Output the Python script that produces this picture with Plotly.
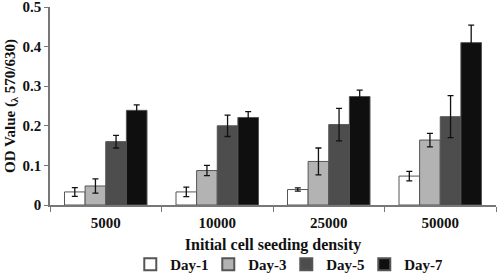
import plotly.graph_objects as go

categories = ["5000", "10000", "25000", "50000"]
series_names = ["Day-1", "Day-3", "Day-5", "Day-7"]
day1 = [0.033, 0.033, 0.039, 0.073]
day3 = [0.048, 0.087, 0.110, 0.164]
day5 = [0.160, 0.200, 0.203, 0.223]
day7 = [0.239, 0.221, 0.274, 0.410]
err1 = [0.011, 0.012, 0.004, 0.012]
err3 = [0.018, 0.013, 0.034, 0.017]
err5 = [0.016, 0.027, 0.041, 0.053]
err7 = [0.014, 0.015, 0.016, 0.044]
colors = ["#ffffff", "#b3b3b3", "#4d4d4d", "#0f0f0f"]
y_ticks = [0, 0.1, 0.2, 0.3, 0.4, 0.5]
y_ticklabels = ["0", "0.1", "0.2", "0.3", "0.4", "0.5"]

FONT = "Liberation Serif, Times New Roman, serif"
fig = go.Figure()
for name, vals, errs, col in zip(series_names, [day1, day3, day5, day7],
                                  [err1, err3, err5, err7], colors):
    fig.add_trace(go.Bar(
        x=categories, y=vals, name=name,
        marker=dict(color=col, line=dict(color="#555555", width=1)),
        error_y=dict(type="data", array=errs, color="#111111", thickness=1.3, width=3),
    ))

fig.update_layout(
    width=497, height=276,
    margin=dict(l=50, r=1, t=7, b=71, autoexpand=False),
    paper_bgcolor="white", plot_bgcolor="white",
    barmode="group", bargap=0.26, bargroupgap=0,
    font=dict(family=FONT, size=14, color="#111111", weight=700),
    showlegend=True,
    legend=dict(orientation="h", x=0.18, xanchor="left", y=-0.30, yanchor="middle",
                font=dict(family=FONT, size=15, weight=700),
                entrywidth=33, entrywidthmode="pixels", tracegroupgap=0,
                itemsizing="constant", bgcolor="rgba(0,0,0,0)"),
    xaxis=dict(
        type="category", tickson="boundaries", ticks="outside", ticklen=5,
        tickcolor="#777777", showline=True, linecolor="#777777", linewidth=1.5,
        showgrid=False, automargin=False, ticklabelstandoff=3,
        tickfont=dict(family=FONT, size=15, weight=700),
        title=dict(text="<b>Initial cell seeding density</b>", standoff=9,
                   font=dict(family=FONT, size=16, weight=700)),
    ),
    yaxis=dict(
        range=[0, 0.5], tickvals=y_ticks, ticktext=y_ticklabels,
        ticks="outside", ticklen=4, tickcolor="#777777", ticklabeloverflow="allow",
        showline=True, linecolor="#777777", linewidth=1.5, showgrid=False,
        zeroline=False, automargin=False,
        tickfont=dict(family=FONT, size=15, weight=700),
        title=dict(text="<b>OD Value (<sub>λ</sub> 570/630)</b>", standoff=3,
                   font=dict(family=FONT, size=15, weight=700)),
    ),
)

fig.write_html("out.html", config={"displayModeBar": False},
               post_script="document.body.style.margin='0';")
